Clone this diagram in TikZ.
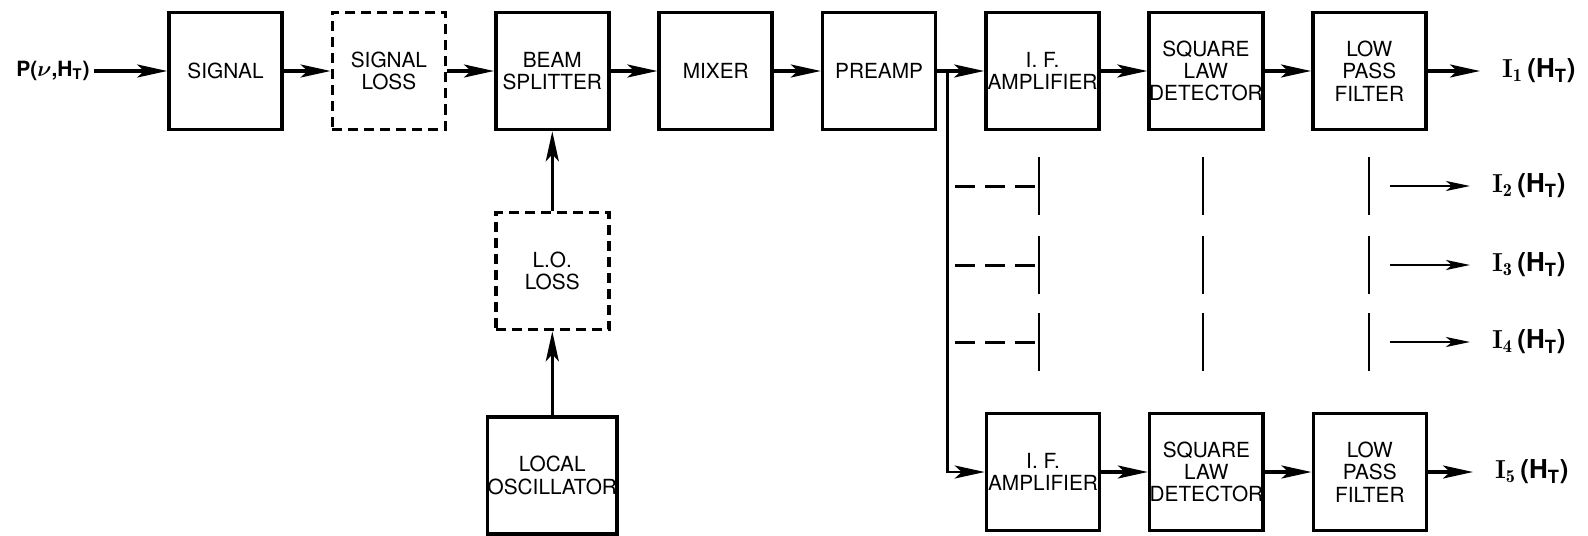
\documentclass[tikz,border=0pt]{standalone}
\usepackage{amsmath,amssymb}
\usepackage{fontspec}
\setsansfont{TeX Gyre Heros}
\usepackage{tikz}
\usetikzlibrary{arrows.meta, positioning}

\newcommand{\outI}[1]{{\rmfamily I}$_{\mathbf{#1}}$\,(H$_{\textsf{T}}$)}

\begin{document}
\begin{tikzpicture}[x=0.5pt, y=-0.5pt, node distance=81.7pt]
\tikzstyle{block} = [rectangle, minimum width=56.5pt, minimum height=58.5pt, inner sep=0pt, align=center, draw=black, line width=1.8pt, font=\sffamily\fontsize{10.4}{11.2}\selectfont]
\tikzstyle{lossblock} = [block, dash pattern=on 5pt off 3pt]
\tikzstyle{arrow} = [line width=1.6pt, -{Stealth[length=15pt, width=6.5pt, inset=3.5pt]}]
\tikzstyle{thinarrow} = [line width=1.3pt, -{Stealth[length=12pt, width=5pt, inset=3pt]}]
\tikzstyle{outlabel} = [anchor=west, inner sep=2pt, outer xsep=9pt, font=\sffamily\bfseries\fontsize{13}{15}\selectfont]
\tikzstyle{channel} = [line width=1.3pt]

\useasboundingbox (0,0) rectangle (1588,535);

% Signal path
\node (input) [inner sep=2pt, font=\sffamily\bfseries\fontsize{10.5}{12}\selectfont] at (53,71) {P($\boldsymbol{\nu}$,H$_{\textsf{T}}$)};
\node (signal) [block] at (225.5,71) {SIGNAL};
\node (sigloss) [lossblock, right of=signal] {SIGNAL\\LOSS};
\node (beam) [block, right of=sigloss] {BEAM\\SPLITTER};
\node (mixer) [block, right of=beam] {MIXER};
\node (preamp) [block, right of=mixer] {PREAMP};

% Local oscillator
\node (loloss) [lossblock, node distance=100pt, below of=beam] {L.O.\\LOSS};
\node (localosc) [block, node distance=102.25pt, below of=loloss] {LOCAL\\OSCILLATOR};

% Channel 1
\node (ifamp) [block, right of=preamp] {I. F.\\AMPLIFIER};
\node (sqlaw) [block, right of=ifamp] {SQUARE\\LAW\\DETECTOR};
\node (lpf) [block, right of=sqlaw] {LOW\\PASS\\FILTER};
\node (out1) [outlabel] at (1480,71) {\outI{1}};

% Channel 5
\node (ifampv) [block] at (1043,472) {I. F.\\AMPLIFIER};
\node (sqlawv) [block, right of=ifampv] {SQUARE\\LAW\\DETECTOR};
\node (lpfv) [block, right of=sqlawv] {LOW\\PASS\\FILTER};
\node (out5) [outlabel] at (1473,472) {\outI{5}};

\coordinate (branch) at ([xshift=5pt]preamp.east);

% Arrows
\draw [arrow] (input) -- (signal);
\draw [arrow] (signal) -- (sigloss);
\draw [arrow] (sigloss) -- (beam);
\draw [arrow] (beam) -- (mixer);
\draw [arrow] (mixer) -- (preamp);
\draw [arrow] (localosc) -- (loloss);
\draw [arrow] (loloss) -- (beam);
\draw [arrow] (preamp) -- (ifamp);
\draw [arrow] (ifamp) -- (sqlaw);
\draw [arrow] (sqlaw) -- (lpf);
\draw [arrow] (lpf) -- (out1);
\draw [arrow, line width=1.3pt] (branch) |- (ifampv);
\draw [arrow] (ifampv) -- (sqlawv);
\draw [arrow] (sqlawv) -- (lpfv);
\draw [arrow] (lpfv) -- (out5);

% Channels 2 to 4
\foreach \y/\n in {186/2, 265/3, 342/4} {
  \draw [channel, line width=1.5pt, dash pattern=on 10pt off 5pt] (955,\y) -- (1037,\y);
  \foreach \x in {1039,1203,1369}
    \draw [channel] (\x,\y-29) -- (\x,\y+29);
  \coordinate (start\n) at (1390,\y);
  \node (out\n) [outlabel] at (1470,\y) {\outI{\n}};
  \draw [thinarrow] (start\n) -- (out\n);
}
\end{tikzpicture}
\end{document}
